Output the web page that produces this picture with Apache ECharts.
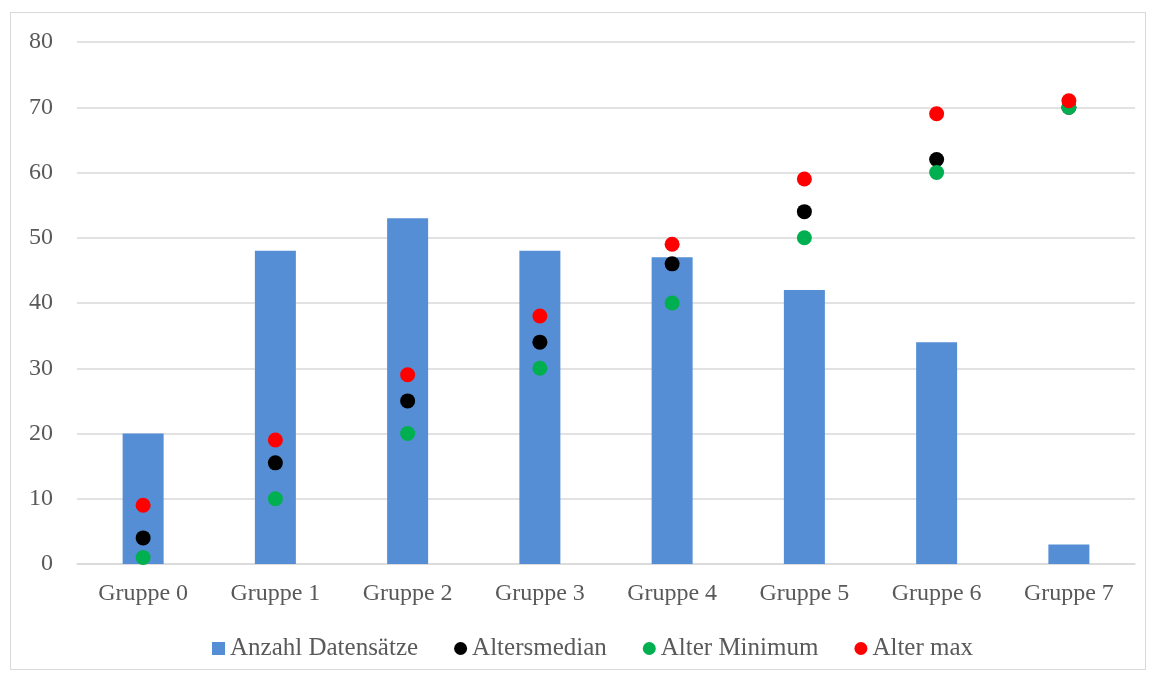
<!DOCTYPE html>
<html>
<head>
<meta charset="utf-8">
<script src="https://cdn.jsdelivr.net/npm/echarts@6/dist/echarts.min.js"></script>
<style>
  html, body { margin: 0; padding: 0; background: #fff; }
  #frame { position: absolute; left: 10px; top: 12px; width: 1136px; height: 658px; border: 1px solid #d9d9d9; box-sizing: border-box; }
  #chart { position: absolute; left: 0; top: 0; width: 1155px; height: 675px; }
</style>
</head>
<body>
<div id="frame"></div>
<div id="chart"></div>
<script>
// Age groups with record counts and age statistics
const categories = ['Gruppe 0', 'Gruppe 1', 'Gruppe 2', 'Gruppe 3', 'Gruppe 4', 'Gruppe 5', 'Gruppe 6', 'Gruppe 7'];
const anzahlDatensaetze = [20, 48, 53, 48, 47, 42, 34, 3];
const altersmedian = [4, 15.5, 25, 34, 46, 54, 62, 70];
const alterMinimum = [1, 10, 20, 30, 40, 50, 60, 70];
const alterMax = [9, 19, 29, 38, 49, 59, 69, 71];
const yTicks = { min: 0, max: 80, interval: 10 };

const FONT = 'Liberation Serif';
const TEXT = '#595959';

const chart = echarts.init(document.getElementById('chart'), null, { renderer: 'canvas' });

function dots(name, data, color) {
  return {
    name, type: 'scatter', data,
    symbol: 'circle', symbolSize: 15,
    itemStyle: { color, opacity: 1 },
    z: 3
  };
}

chart.setOption({
  animation: false,
  textStyle: { fontFamily: FONT, color: TEXT },
  grid: { left: 77, right: 20, top: 42, bottom: 111, containLabel: false },
  legend: {
    top: 631, left: 207,
    itemWidth: 13, itemHeight: 13, itemGap: 36,
    textStyle: { fontFamily: FONT, fontSize: 25, color: TEXT },
    data: [
      { name: 'Anzahl Datensätze', icon: 'rect' },
      { name: 'Altersmedian', icon: 'circle' },
      { name: 'Alter Minimum', icon: 'circle' },
      { name: 'Alter max', icon: 'circle' }
    ]
  },
  xAxis: {
    type: 'category', data: categories,
    axisLine: { show: true, lineStyle: { color: '#d9d9d9', width: 1.5 } },
    axisTick: { show: false },
    axisLabel: { fontFamily: FONT, fontSize: 24, color: TEXT, margin: 18 }
  },
  yAxis: {
    type: 'value', min: yTicks.min, max: yTicks.max, interval: yTicks.interval,
    axisLine: { show: false }, axisTick: { show: false },
    splitLine: { lineStyle: { color: '#d9d9d9', width: 1.5 } },
    axisLabel: { fontFamily: FONT, fontSize: 24, color: TEXT, margin: 24 }
  },
  series: [
    {
      name: 'Anzahl Datensätze', type: 'bar', data: anzahlDatensaetze,
      barWidth: 41, itemStyle: { color: '#558ED5' }, z: 2
    },
    dots('Altersmedian', altersmedian, '#000000'),
    dots('Alter Minimum', alterMinimum, '#00B050'),
    dots('Alter max', alterMax, '#FF0000')
  ]
});
</script>
</body>
</html>
